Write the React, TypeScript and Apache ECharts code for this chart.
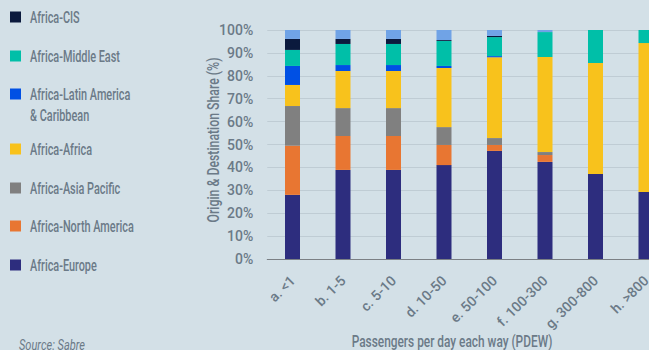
import React, { useEffect, useRef } from "react";
import * as echarts from "echarts";

const categories = ["a. <1", "b. 1-5", "c. 5-10", "d. 10-50", "e. 50-100", "f. 100-300", "g. 300-800", "h. >800"];
const africaEurope = [28, 38.9, 38.9, 41, 47.2, 42.4, 37.1, 29.3];
const africaNorthAmerica = [21.5, 14.8, 14.8, 8.8, 2.6, 3, 0, 0];
const africaAsiaPacific = [17.3, 12.2, 12.2, 7.8, 3, 1.3, 0, 0];
const africaAfrica = [9.2, 16.2, 16.2, 25.8, 35.3, 41.5, 48.5, 65];
const africaLatinAmerica = [8.3, 2.6, 2.6, 0.9, 0.5, 0, 0, 0];
const africaMiddleEast = [7, 9.2, 9.2, 10.9, 8.3, 10.9, 14.4, 5.7];
const africaCIS = [4.8, 2.2, 2.2, 0.4, 0.5, 0, 0, 0];
const other = [3.9, 3.9, 3.9, 4.4, 2.6, 0.9, 0, 0];

const legendNames = ["Africa-CIS", "Africa-Middle East", "Africa-Latin America\n& Caribbean", "Africa-Africa", "Africa-Asia Pacific", "Africa-North America", "Africa-Europe"];
const yTitle = "Origin & Destination Share (%)";
const xTitle = "Passengers per day each way (PDEW)";
const sourceText = "Source: Sabre";

const FONT = "Roboto, 'DejaVu Sans Condensed', sans-serif";
const TXT = "#6b7a87";
const BG = "#d3e0e7";

const colors = {
  europe: "#2d2d7e",
  na: "#e87632",
  ap: "#808080",
  africa: "#f8c21c",
  la: "#0050e4",
  me: "#00bfa8",
  cis: "#0b1a3d",
  other: "#70a3e6",
};

function measure(text: string, font: string): number {
  const c = document.createElement("canvas").getContext("2d")!;
  c.font = font;
  return c.measureText(text).width;
}

export default function App() {
  const ref = useRef<HTMLDivElement>(null);
  useEffect(() => {
    const chart = echarts.init(ref.current!, undefined, { renderer: "svg" });
    const mk = (name: string, data: number[], color: string) => ({
      name,
      type: "bar",
      stack: "s",
      data,
      barWidth: 15,
      itemStyle: { color },
    });
    const legendColors = [colors.cis, colors.me, colors.la, colors.africa, colors.ap, colors.na, colors.europe];
    const legendY = [17, 56, 94, 149, 188, 226, 265];
    const legendFont = `500 16px ${FONT}`;
    const legendScale = 90 / measure("Africa-Middle East", legendFont);
    const graphics: any[] = [];
    legendNames.forEach((n, i) => {
      graphics.push({ type: "rect", shape: { x: 10, y: legendY[i] - 5.5, width: 11, height: 11 }, style: { fill: legendColors[i] } });
      graphics.push({
        type: "text",
        x: 30,
        y: legendY[i] - 10.5,
        scaleX: legendScale,
        style: { text: n, font: legendFont, fill: TXT, verticalAlign: "top", lineHeight: 21 },
      });
    });
    const srcFont = `italic 15px ${FONT}`;
    graphics.push({ type: "text", x: 19, y: 337, scaleX: 66 / measure(sourceText, srcFont), style: { text: sourceText, font: srcFont, fill: TXT, verticalAlign: "top" } });
    const titleFont = `500 16px ${FONT}`;
    graphics.push({ type: "text", x: 452, y: 341, scaleX: 201 / measure(xTitle, titleFont), style: { text: xTitle, font: titleFont, fill: TXT, align: "center", verticalAlign: "middle" } });
    graphics.push({ type: "text", x: 213, y: 140, rotation: Math.PI / 2, scaleX: 165 / measure(yTitle, `500 17px ${FONT}`), style: { text: yTitle, font: `500 17px ${FONT}`, fill: TXT, align: "center", verticalAlign: "middle" } });
    chart.setOption({
      animation: false,
      backgroundColor: BG,
      grid: { left: 267.25, top: 30, width: 404, height: 229 },
      xAxis: {
        type: "category",
        data: categories,
        axisTick: { show: false },
        axisLine: { lineStyle: { color: "#7b8085", width: 1 } },
        axisLabel: { rotate: 45, color: TXT, fontFamily: FONT, fontWeight: 500, fontSize: 14, margin: 19 },
      },
      yAxis: {
        type: "value",
        min: 0,
        max: 100,
        interval: 10,
        axisLabel: { formatter: "{value}%", color: TXT, fontFamily: FONT, fontWeight: 500, fontSize: 14, margin: 14 },
        splitLine: { lineStyle: { color: "#bfccd4", width: 1 } },
      },
      graphic: graphics,
      series: [
        mk("Africa-Europe", africaEurope, colors.europe),
        mk("Africa-North America", africaNorthAmerica, colors.na),
        mk("Africa-Asia Pacific", africaAsiaPacific, colors.ap),
        mk("Africa-Africa", africaAfrica, colors.africa),
        mk("Africa-Latin America & Caribbean", africaLatinAmerica, colors.la),
        mk("Africa-Middle East", africaMiddleEast, colors.me),
        mk("Africa-CIS", africaCIS, colors.cis),
        mk("Other", other, colors.other),
      ],
    });
    return () => chart.dispose();
  }, []);
  return (
    <div style={{ position: "fixed", left: 0, top: 0, width: 649, height: 350, overflow: "hidden", background: BG }}>
      <div ref={ref} style={{ width: 700, height: 350 }} />
    </div>
  );
}
